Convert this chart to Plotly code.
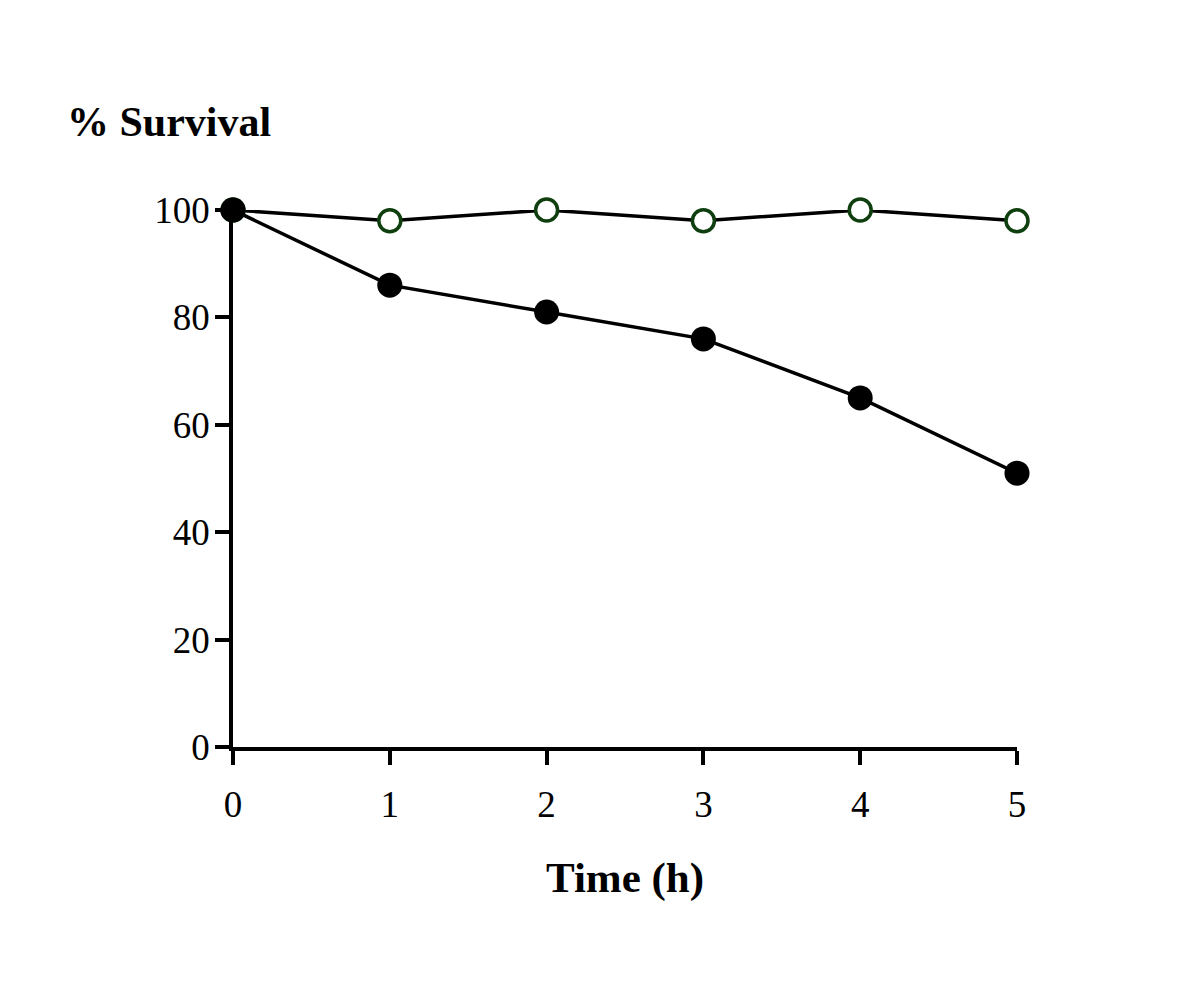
import plotly.graph_objects as go

time_h = [0, 1, 2, 3, 4, 5]
control_survival = [100, 98, 100, 98, 100, 98]
treated_survival = [100, 86, 81, 76, 65, 51]
y_ticks = [0, 20, 40, 60, 80, 100]

FONT = "Liberation Serif, Times New Roman, serif"

fig = go.Figure()
fig.add_trace(go.Scatter(
    x=time_h, y=control_survival, mode="lines+markers",
    line=dict(color="black", width=3.5),
    marker=dict(symbol="circle", size=22, color="white",
                line=dict(color="#0f3f0f", width=3.5)),
    cliponaxis=False, showlegend=False))
fig.add_trace(go.Scatter(
    x=time_h, y=treated_survival, mode="lines+markers",
    line=dict(color="black", width=3.5),
    marker=dict(symbol="circle", size=25, color="black",
                line=dict(color="black", width=0)),
    cliponaxis=False, showlegend=False))

fig.update_layout(
    width=1196, height=990,
    margin=dict(l=225, r=187, t=202, b=251),
    paper_bgcolor="white", plot_bgcolor="white",
    font=dict(family=FONT, size=36, color="black"),
    xaxis=dict(range=[0, 5], tickvals=time_h, ticks="outside", ticklen=14,
               tickwidth=3.5, tickcolor="black", showline=True, linecolor="black",
               linewidth=3.5, showgrid=False, zeroline=False,
               ticklabelstandoff=8,
               tickfont=dict(family=FONT, size=37)),
    yaxis=dict(range=[0, 100], tickvals=y_ticks, ticks="outside", ticklen=14,
               tickwidth=3.5, tickcolor="black", showline=True, linecolor="black",
               linewidth=3.5, showgrid=False, zeroline=False,
               ticklabelstandoff=-2,
               tickfont=dict(family=FONT, size=37)),
    annotations=[
        dict(text="<b>% Survival</b>", xref="paper", yref="paper",
             x=-(233 - 65) / 784, y=1 + (210 - 122) / 537, xanchor="left",
             yanchor="middle", showarrow=False, font=dict(family=FONT, size=42)),
        dict(text="<b>Time (h)</b>", xref="paper", yref="paper",
             x=(625 - 233) / 784, y=-(878 - 747) / 537, xanchor="center",
             yanchor="middle", showarrow=False, font=dict(family=FONT, size=43)),
    ],
)

fig.write_html("out.html")
